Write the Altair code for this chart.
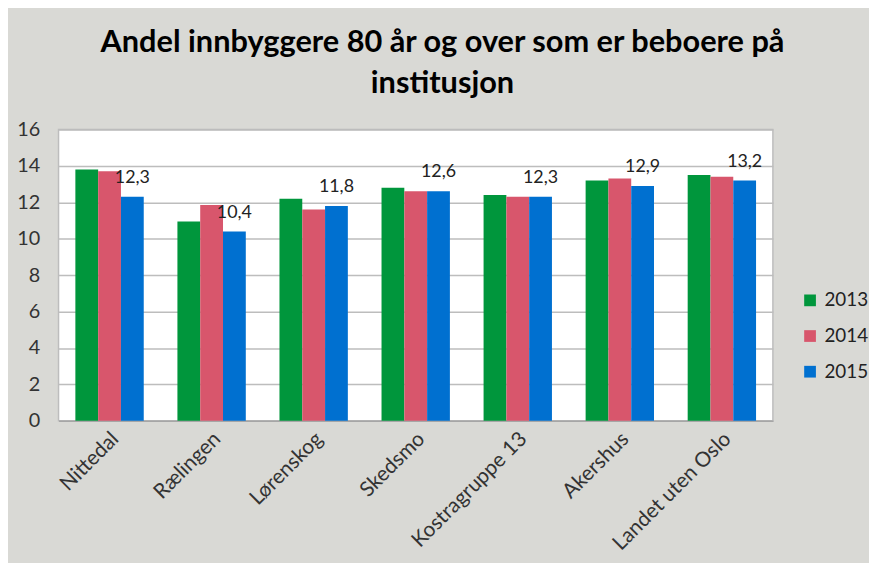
import altair as alt
import pandas as pd

categories = ["Nittedal", "Rælingen", "Lørenskog", "Skedsmo", "Kostragruppe 13", "Akershus", "Landet uten Oslo"]
years = ["2013", "2014", "2015"]
v2013 = [13.8, 10.95, 12.2, 12.8, 12.4, 13.2, 13.5]
v2014 = [13.7, 11.85, 11.6, 12.6, 12.3, 13.3, 13.4]
v2015 = [12.3, 10.4, 11.8, 12.6, 12.3, 12.9, 13.2]
y_ticks = [0, 2, 4, 6, 8, 10, 12, 14, 16]
colors = ["#00963C", "#D8566C", "#0070D0"]
title_lines = ["Andel innbyggere 80 år og over som er beboere på", "institusjon"]

rows = []
for yr, vals in zip(years, [v2013, v2014, v2015]):
    for c, v in zip(categories, vals):
        rows.append({"kategori": c, "år": yr, "verdi": v,
                     "etikett": f"{v:.1f}".replace(".", ",")})
df = pd.DataFrame(rows)

FONT = "Lato"

x_enc = alt.X("kategori:N", sort=categories, title=None,
              scale=alt.Scale(paddingInner=0.33, paddingOuter=0.165),
              axis=alt.Axis(labelAngle=-45, labelAlign="right", labelBaseline="middle",
                            labelFontSize=21, labelColor="#333333", labelFont=FONT,
                            ticks=False, domain=True, domainColor="#A6A6A6", domainWidth=1.5,
                            labelPadding=15, labelOffset=6, labelLimit=300))
y_enc = alt.Y("verdi:Q", title=None,
              scale=alt.Scale(domain=[0, 16]),
              axis=alt.Axis(values=y_ticks, labelFontSize=20, labelColor="#333333",
                            labelFont=FONT, ticks=False, domain=False, labelOverlap=False,
                            gridColor="#BDBDBD", gridWidth=1.5, labelPadding=19))
xoff = alt.XOffset("år:N", scale=alt.Scale(domain=years, paddingInner=0, paddingOuter=0))

bars = alt.Chart(df).mark_bar().encode(
    x=x_enc,
    xOffset=xoff,
    y=y_enc,
    color=alt.Color("år:N", scale=alt.Scale(domain=years, range=colors),
                    legend=alt.Legend(title=None, orient="none", legendX=749, legendY=163,
                                      symbolType="square", symbolSize=140, symbolStrokeWidth=0,
                                      labelFontSize=19, labelFont=FONT, labelColor="#222222",
                                      rowPadding=16, padding=0, labelOffset=5)),
)

labels = alt.Chart(df).transform_filter(alt.datum["år"] == "2015").mark_text(
    dy=-19, fontSize=18, font=FONT, color="#222222", baseline="middle"
).encode(
    x=x_enc,
    xOffset=xoff,
    y=y_enc,
    text="etikett:N",
)

chart = alt.layer(bars, labels).properties(
    width=721, height=294,
    autosize=alt.AutoSizeParams(type="none"),
    padding={"left": 51, "top": 120, "right": 97, "bottom": 141},
    background="#D9D9D5",
    title=alt.TitleParams(title_lines, fontSize=31, font=FONT, fontWeight="bold",
                          color="#000000", anchor="middle", dx=27, offset=20, lineHeight=41),
).configure_view(fill="white", stroke="#BDBDBD", strokeWidth=1.5)

chart.save("out.html", embed_options={"renderer": "svg", "actions": False})
